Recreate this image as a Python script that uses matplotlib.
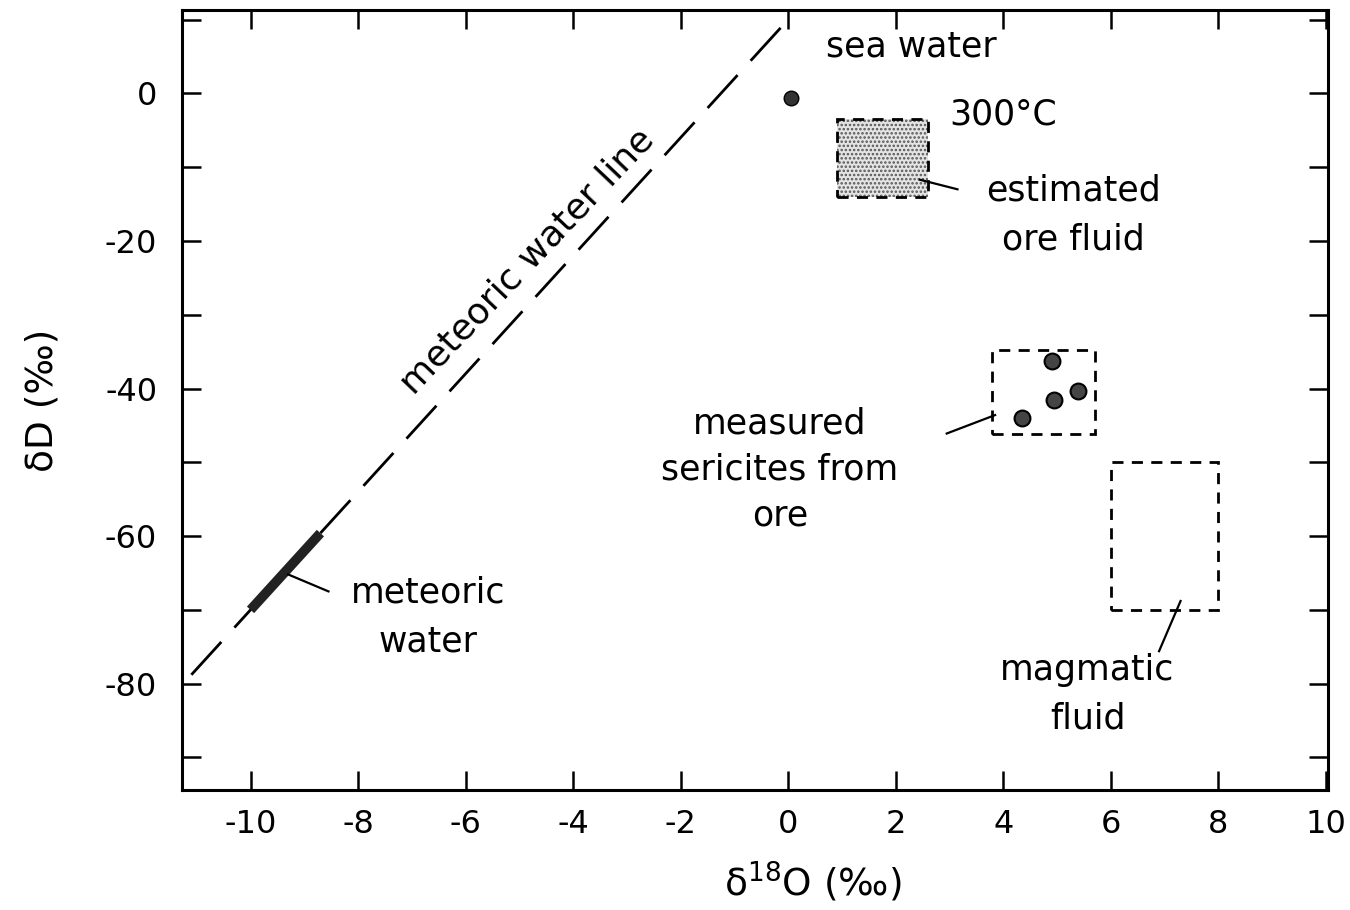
import matplotlib
matplotlib.use("Agg")
import matplotlib.pyplot as plt
from matplotlib.patches import Rectangle

plt.rcParams["font.family"] = ["DejaVu Sans"]
plt.rcParams["lines.scale_dashes"] = False
plt.rcParams["hatch.color"] = "#555555"
plt.rcParams["hatch.linewidth"] = 1.2

# meteoric water line endpoints (d18O, dD)
mwl_o18 = [-11.1, -0.05]
mwl_dd = [-78.8, 9.6]

# meteoric water segment
mw_o18 = [-10.0, -8.7]
mw_dd = [-70.0, -59.6]

# sea water
sea_o18 = [0.05]
sea_dd = [-0.6]

# measured sericites
ser_o18 = [4.9, 4.95, 5.4, 4.35]
ser_dd = [-36.3, -41.5, -40.4, -44.0]

# boxes: (x0, x1, y0, y1)
ore_box = (0.9, 2.6, -14.0, -3.5)
ser_box = (3.8, 5.7, -46.2, -34.8)
mag_box = (6.0, 8.0, -70.0, -50.0)

xticks = [-10, -8, -6, -4, -2, 0, 2, 4, 6, 8, 10]
yticks = [0, -20, -40, -60, -80]

FS = 25

fig = plt.figure(figsize=(13.5, 9.1), dpi=100)
ax = fig.add_axes([0.135, 0.132, 0.849, 0.857])
ax.set_xlim(-11.27, 10.05)
ax.set_ylim(-94.4, 11.3)

for s in ax.spines.values():
    s.set_linewidth(2.2)

ax.set_xticks(xticks)
ax.set_xticklabels([str(t) for t in xticks])
ax.set_yticks(yticks)
ax.set_yticklabels([str(t) for t in yticks])
ax.set_yticks(range(-90, 11, 10), minor=True)
ax.tick_params(which="both", direction="in", top=True, right=True, width=1.8,
               labelsize=23)
ax.tick_params(axis="x", which="major", length=14, pad=14)
ax.tick_params(axis="y", which="major", length=14, pad=18)
ax.tick_params(axis="y", which="minor", length=14)
ax.tick_params(axis="y", which="minor", labelleft=False)

# meteoric water line
ax.plot(mwl_o18, mwl_dd, color="black", lw=2.0, dashes=(32, 14))
ax.text(-4.85, -22.8, "meteoric water line", rotation=46.5, fontsize=FS + 1,
        ha="center", va="center", rotation_mode="anchor")

# meteoric water thick segment
ax.plot(mw_o18, mw_dd, color="#222222", lw=7, solid_capstyle="butt")
ax.plot([-9.3, -8.55], [-65.2, -67.5], color="black", lw=1.6)
ax.text(-6.7, -71.0, "meteoric\nwater", fontsize=FS, ha="center", va="center",
        linespacing=1.55)

# sea water
ax.scatter(sea_o18, sea_dd, s=110, color="#333333", edgecolor="black", zorder=3)
ax.text(2.3, 6.4, "sea water", fontsize=FS, ha="center", va="center")

# estimated ore fluid
x0, x1, y0, y1 = ore_box
ax.add_patch(Rectangle((x0, y0), x1 - x0, y1 - y0, facecolor="#e4e4e4",
                       hatch="....", linewidth=0))
ax.add_patch(Rectangle((x0, y0), x1 - x0, y1 - y0, fill=False,
                       edgecolor="black", lw=2.0, linestyle=(0, (8, 6))))
ax.text(4.0, -2.8, "300°C", fontsize=FS, ha="center", va="center")
ax.plot([2.45, 3.15], [-11.7, -13.0], color="black", lw=1.6)
ax.text(5.3, -16.5, "estimated\nore fluid", fontsize=FS, ha="center",
        va="center", linespacing=1.55)

# measured sericites
x0, x1, y0, y1 = ser_box
ax.add_patch(Rectangle((x0, y0), x1 - x0, y1 - y0, fill=False,
                       edgecolor="black", lw=2.0, linestyle=(0, (8, 6))))
ax.scatter(ser_o18, ser_dd, s=130, color="#444444", edgecolor="black",
           linewidth=1.5, zorder=3)
ax.plot([2.95, 3.85], [-46.1, -43.6], color="black", lw=1.6)
ax.text(-0.15, -51.0, "measured\nsericites from\nore", fontsize=FS,
        ha="center", va="center", linespacing=1.45)

# magmatic fluid
x0, x1, y0, y1 = mag_box
ax.add_patch(Rectangle((x0, y0), x1 - x0, y1 - y0, fill=False,
                       edgecolor="black", lw=2.0, linestyle=(0, (8, 6))))
ax.plot([6.9, 7.3], [-75.6, -68.8], color="black", lw=1.6)
ax.text(5.57, -81.4, "magmatic\nfluid", fontsize=FS, ha="center", va="center",
        linespacing=1.55)

ax.set_xlabel("δ$^{18}$O (‰)", fontsize=27)
ax.xaxis.set_label_coords(0.55, -0.09)
ax.set_ylabel("δD (‰)", fontsize=27)
ax.yaxis.set_label_coords(-0.106, 0.5)

fig.savefig("out.png", dpi=100)
